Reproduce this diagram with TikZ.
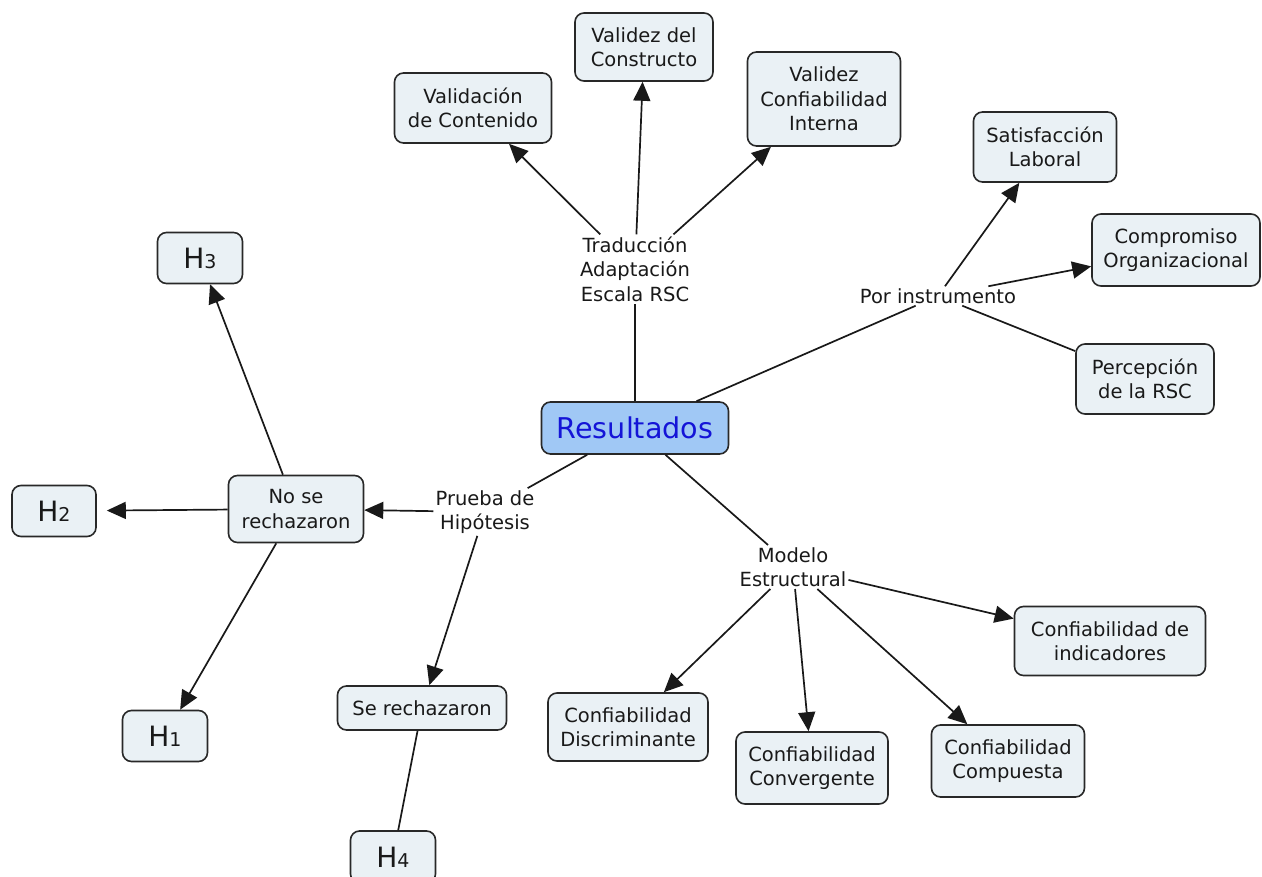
\documentclass[tikz,border=0pt]{standalone}
\usepackage{fontspec}
\setmainfont{DejaVu Sans}
\usetikzlibrary{arrows.meta}
\definecolor{boxfill}{RGB}{234,241,245}
\definecolor{boxline}{RGB}{40,40,40}
\definecolor{mainfill}{RGB}{160,200,245}
\definecolor{maintext}{RGB}{20,20,215}
\definecolor{ink}{RGB}{25,25,25}
% small digit set on the baseline after H
\newcommand\hnum[1]{{\fontsize{19}{19}\selectfont #1}}
\begin{document}
\begin{tikzpicture}[x=1pt,y=-1pt,
  concept/.style={draw=boxline, fill=boxfill, line width=1.6pt, rounded corners=9pt,
    align=center, inner sep=0pt, text=ink, font=\fontsize{19.5}{24.5}\selectfont},
  phrase/.style={align=center, inner sep=2pt, text=ink, font=\fontsize{19.5}{24.5}\selectfont},
  hyp/.style={concept, font=\fontsize{28}{28}\selectfont, minimum width=85pt, minimum height=51pt},
  link/.style={draw=ink, line width=1.7pt},
  arr/.style={link, -{Triangle[length=19pt,width=17pt]}},
]
\useasboundingbox (0,0) rectangle (1262,877);
\fill[white] (0,0) rectangle (1262,877);

% central concept
\node[draw=boxline, fill=mainfill, line width=1.6pt, rounded corners=9pt, inner sep=0pt,
  minimum width=187pt, minimum height=52pt, text=maintext,
  font=\fontsize{28.6}{30}\selectfont] (res) at (635,428) {Resultados};

% linking phrases
\node[phrase] (trad) at (635,269) {Traducción\\Adaptación\\Escala RSC};
\node[phrase] (porinst) at (938,296) {Por instrumento};
\node[phrase] (prueba) at (485,512) {Prueba de\\Hipótesis};
\node[phrase] (modelo) at (793,567) {Modelo\\Estructural};

% top branch
\node[concept, minimum width=157pt, minimum height=70pt] (valcont) at (473,108) {Validación\\de Contenido};
\node[concept, minimum width=138pt, minimum height=68pt] (valcons) at (644,47) {Validez del\\Constructo};
\node[concept, minimum width=153pt, minimum height=94pt] (valint) at (824,99) {Validez\\Confiabilidad\\Interna};

% right branch
\node[concept, minimum width=143pt, minimum height=70pt] (satis) at (1045,147) {Satisfacción\\Laboral};
\node[concept, minimum width=168pt, minimum height=72pt] (comp) at (1176,250) {Compromiso\\Organizacional};
\node[concept, minimum width=138pt, minimum height=70pt] (perc) at (1145,379) {Percepción\\de la RSC};

% left branch
\node[concept, minimum width=135pt, minimum height=67pt] (nose) at (296,509) {No se\\rechazaron};
\node[concept, minimum width=169pt, minimum height=44pt] (serech) at (422,708) {Se rechazaron};
\node[hyp] (h3) at (200,258) {H\hnum{3}};
\node[hyp, minimum width=84pt] (h2) at (54,511) {H\hnum{2}};
\node[hyp] (h1) at (165,736) {H\hnum{1}};
\node[hyp, minimum height=52pt] (h4) at (393,857) {H\hnum{4}};

% bottom-right branch
\node[concept, minimum width=191pt, minimum height=69pt] (ind) at (1110,641) {Confiabilidad de\\indicadores};
\node[concept, minimum width=160pt, minimum height=68pt] (disc) at (628,727) {Confiabilidad\\Discriminante};
\node[concept, minimum width=152pt, minimum height=72pt] (conv) at (812,768) {Confiabilidad\\Convergente};
\node[concept, minimum width=153pt, minimum height=72pt] (compu) at (1008,761) {Confiabilidad\\Compuesta};

% connectors
\draw[link] (res) -- (trad);
\draw[arr] (trad) -- (valcont);
\draw[arr] (trad) -- (valcons);
\draw[arr] (trad) -- (valint);

\draw[link] (res) -- (porinst);
\draw[arr] (porinst) -- (satis);
\draw[arr] (porinst) -- (comp);
\draw[link] (porinst) -- (perc);

\draw[link] (res) -- (prueba);
\draw[arr] (prueba) -- (nose);
\draw[arr] (prueba) -- (serech);
\draw[arr] (nose) -- (h3);
\draw[arr, shorten >=10pt] (nose) -- (h2);
\draw[arr] (nose) -- (h1);
\draw[link] (serech) -- (h4);

\draw[link] (res) -- (modelo);
\draw[arr] (modelo) -- (ind);
\draw[arr] (modelo) -- (disc);
\draw[arr] (modelo) -- (conv);
\draw[arr] (modelo) -- (compu);
\end{tikzpicture}
\end{document}
